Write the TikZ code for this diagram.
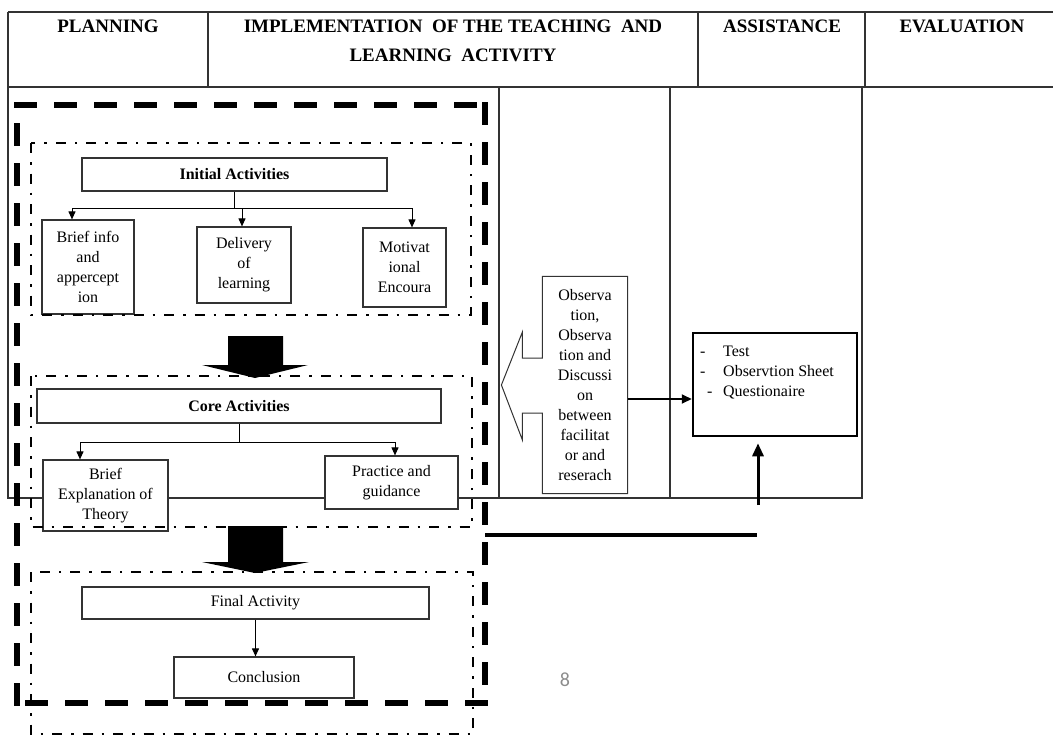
\documentclass[tikz,border=0pt]{standalone}
\usepackage{fontspec}
\setmainfont{Liberation Serif}
\newfontfamily\pgfont{Carlito}
\usetikzlibrary{arrows.meta,calc}
\newcommand\bodyfont{\fontsize{16}{20}\selectfont}
\newcommand\headfont{\fontsize{19}{28}\selectfont\bfseries}
\begin{document}
\begin{tikzpicture}[x=1pt,y=-1pt,
  tline/.style={draw=black!80,line width=1.3pt},
  box/.style={draw=black!80,line width=1.2pt,fill=white,inner sep=0pt,align=center,font=\bodyfont},
  conn/.style={draw=black,line width=1pt},
  arr/.style={conn,-{Triangle[length=8pt,width=7pt]}},
  dashdotframe/.style={draw=black,line width=2pt,dash pattern=on 10pt off 9pt on 2.5pt off 9pt},
  thickframe/.style={draw=black,line width=6pt,line cap=rect,dash pattern=on 17pt off 23pt},
  head/.style={font=\headfont,anchor=base,inner sep=0pt}
]
\useasboundingbox (0,0) rectangle (1053,736);
% table lines
\draw[tline] (8,12) -- (1053,12);
\draw[tline] (8,87) -- (1053,87);
\draw[tline] (8,12) -- (8,498) -- (862,498) -- (862,87);
\draw[tline] (208,12) -- (208,87);
\draw[tline] (698,12) -- (698,87);
\draw[tline] (865,12) -- (865,87);
\draw[tline] (499,87) -- (499,498);
\draw[tline] (670,87) -- (670,498);
% header
\node[head] (hplan) at (108,32) {PLANNING};
\node[head] (himp1) at (453,32) {IMPLEMENTATION\ \ OF THE TEACHING\ \ AND};
\node[head] (himp2) at (453,61) {LEARNING\ \ ACTIVITY};
\node[head] (hass) at (782,32) {ASSISTANCE};
\node[head] (heval) at (962,32) {EVALUATION};
% boxes
\node[box,minimum width=305pt,minimum height=33pt,font=\bodyfont\bfseries] (init) at (234.5,174.5) {Initial Activities};
\node[box,minimum width=92pt,minimum height=94pt] (bi) at (88,267) {Brief info\\and\\appercept\\ion};
\node[box,minimum width=94pt,minimum height=76pt] (dl) at (244,265) {Delivery\\of\\learning};
\node[box,minimum width=83pt,minimum height=79pt] (mo) at (404.5,267.5) {Motivat\\ional\\Encoura};
\node[box,minimum width=404pt,minimum height=34pt,font=\bodyfont\bfseries] (core) at (239,406) {Core Activities};
\node[box,minimum width=125pt,minimum height=71pt] (be) at (105.5,495.5) {Brief\\Explanation of\\Theory};
\node[box,minimum width=133pt,minimum height=53pt] (pg) at (391.5,482.5) {Practice and\\guidance};
\node[box,minimum width=347pt,minimum height=32pt] (fin) at (255.5,603) {Final Activity};
\node[box,minimum width=180pt,minimum height=41pt] (concl) at (264,677.5) {Conclusion};
% callout
\node[box,draw=none,fill=none,minimum width=84pt,minimum height=216pt] (obs) at (585,385) {Observa\\tion,\\Observa\\tion and\\Discussi\\on\\between\\facilitat\\or and\\reserach};
\draw[line width=1pt,draw=black!80] ($(obs.west)+(0,28)$) -- (obs.south west) -- (obs.south east) -- (obs.north east) -- (obs.north west) -- ($(obs.west)+(0,-27)$) -- ($(obs.west)+(-20,-27)$) -- ($(obs.west)+(-20,-53)$) -- ($(obs.west)+(-41,0)$) -- ($(obs.west)+(-20,55)$) -- ($(obs.west)+(-20,28)$) -- cycle;
% test box
\node[draw=black,line width=2.5pt,fill=white,minimum width=164pt,minimum height=103pt,inner sep=0pt] (test) at (775,384.5) {};
\node[anchor=north west,inner sep=0pt,align=left,font=\bodyfont] (testtxt) at (700,345.5) {\makebox[23pt][l]{-}Test\\\makebox[23pt][l]{-}Observtion Sheet\\\makebox[23pt][l]{\hspace{7pt}-}Questionaire};
\draw[line width=2pt,-{Triangle[length=10pt,width=9pt]}] ($(obs.east)+(0,14)$) -- ($(test.west)+(0,14.5)$);
\coordinate (upstart) at (758,505);
\draw[line width=3pt,-{Triangle[length=13pt,width=11pt]}] (upstart) -- ($(test.south -| upstart)+(0,6)$);
\coordinate (hl1) at (485,535);
\coordinate (hl2) at (757,535);
\draw[line width=3.5pt] (hl1) -- (hl2);
% connectors
\coordinate (ij) at ($(init.south)+(0,17)$);
\draw[conn] (init.south) -- (ij);
\draw[arr] (ij) -| ($(bi.north)+(-16,0)$);
\draw[arr] (ij) -| ($(dl.north)+(-2,0)$);
\draw[arr] (ij) -| ($(mo.north)+(7.5,0)$);
\coordinate (cj) at ($(core.south)+(0,19)$);
\draw[conn] (core.south) -- (cj);
\draw[arr] (cj) -| ($(be.north)+(-25.5,0)$);
\draw[arr] (cj) -| ($(pg.north)+(3.5,0)$);
\draw[arr] (fin.south) -- (fin.south |- concl.north);
% frames
\draw[dashdotframe] (31,143) rectangle (471,315);
\draw[dashdotframe] (31,376) rectangle (472,527);
\draw[dashdotframe] (31,572) rectangle (473,734);
\draw[thickframe] (17,105) -- (485,105);
\draw[thickframe] (485,105) -- (485,703);
\draw[thickframe] (485,703) -- (17,703);
\draw[thickframe] (17,703) -- (17,105);
% block arrows
\fill[black] (228,336) -- (283,336) -- (283,365) -- (308,365) -- (255,378) -- (202,365) -- (228,365) -- cycle;
\fill[black] (228,526) -- (283,526) -- (283,562) -- (309,562) -- (255,573) -- (202,562) -- (228,562) -- cycle;
% page number
\node[font=\pgfont\fontsize{20}{24}\selectfont,text=black!45] (pnum) at (565,680) {8};
\end{tikzpicture}
\end{document}
